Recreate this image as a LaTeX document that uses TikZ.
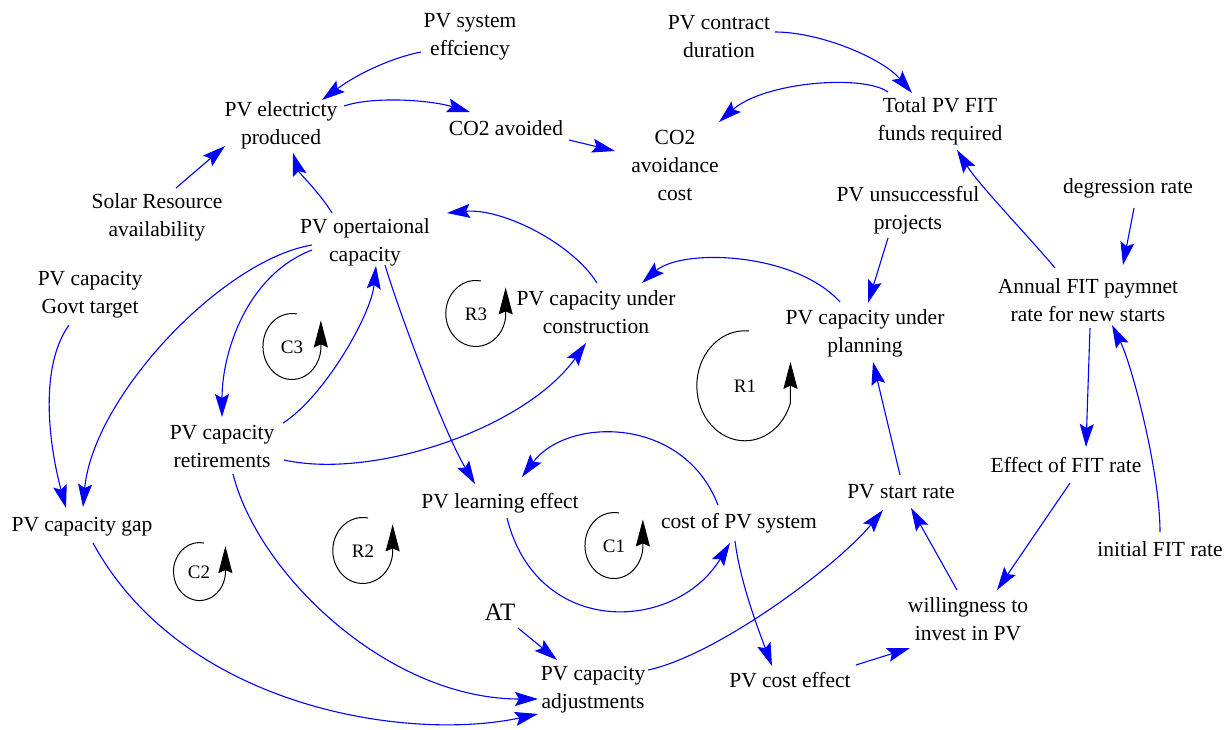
\documentclass[tikz,border=0pt]{standalone}
\usepackage{fontspec}
\setmainfont{Liberation Serif}
\usetikzlibrary{arrows.meta}
\definecolor{linkblue}{RGB}{0,0,255}
\tikzset{
  var/.style={align=center, inner sep=0pt, font=\fontsize{21.5}{28}\selectfont},
  bigvar/.style={align=center, inner sep=0pt, font=\fontsize{25}{30}\selectfont},
  looplbl/.style={inner sep=0pt, font=\fontsize{19}{22}\selectfont},
  link/.style={draw=linkblue, line width=1.1pt, -{Stealth[length=23pt,width=14pt,inset=4pt,fill=linkblue]}},
  loopline/.style={draw=black, line width=1pt, -{Stealth[length=27pt,width=14pt,inset=3pt,fill=black]}}
}
\begin{document}
\begin{tikzpicture}[x=1pt,y=-1pt]
\useasboundingbox (0,0) rectangle (1232,730);
\fill[white] (0,0) rectangle (1232,730);
% variables
\node[var] (sys) at (470,37) {PV system\\effciency};
\node[var] (elec) at (281,125) {PV electricty\\produced};
\node[var] (co2) at (506,128) {CO2 avoided};
\node[var] (cost2) at (675,165) {CO2\\avoidance\\cost};
\node[var] (contract) at (719,37) {PV contract\\duration};
\node[var] (fit) at (940,121) {Total PV FIT\\funds required};
\node[var] (solar) at (157,217) {Solar Resource\\availability};
\node[var] (oper) at (365,242) {PV opertaional\\capacity};
\node[var] (unsucc) at (908,210) {PV unsuccessful\\projects};
\node[var] (degr) at (1128,188) {degression rate};
\node[var] (target) at (90,295) {PV capacity\\Govt target};
\node[var] (constr) at (596,312) {PV capacity under\\construction};
\node[var] (annual) at (1088,300) {Annual FIT paymnet\\rate for new starts};
\node[var] (plan) at (865,333) {PV capacity under\\planning};
\node[var] (retire) at (222,446) {PV capacity\\retirements};
\node[var] (effit) at (1066,465) {Effect of FIT rate};
\node[var] (learn) at (500,503) {PV learning effect};
\node[var] (start) at (901,492) {PV start rate};
\node[var] (gap) at (82,527) {PV capacity gap};
\node[var] (costpv) at (739,523) {cost of PV system};
\node[var] (init) at (1160,549) {initial FIT rate};
\node[var] (will) at (968,619) {willingness to\\invest in PV};
\node[bigvar] (at) at (500,612) {AT};
\node[var] (adj) at (593,690) {PV capacity\\adjustments};
\node[var] (costeff) at (790,680) {PV cost effect};
% loop labels
\node[looplbl] (c3) at (292,347) {C3};
\node[looplbl] (r3) at (476,314) {R3};
\node[looplbl] (r1) at (745,386) {R1};
\node[looplbl] (r2) at (363,551) {R2};
\node[looplbl] (c2) at (199,572) {C2};
\node[looplbl] (c1) at (614,546) {C1};
% loop symbols
\draw[loopline] ([shift={(5,-33)}]c3.center) arc[start angle=280, end angle=5, x radius=29, y radius=33] -- ++(0,-29);
\draw[loopline] ([shift={(5,-33)}]r3.center) arc[start angle=280, end angle=5, x radius=30, y radius=33] -- ++(0,-29);
\draw[loopline] ([shift={(4,-55)}]r1.center) arc[start angle=275, end angle=18, x radius=48, y radius=55] -- ++(0,-41);
\draw[loopline] ([shift={(5,-33)}]r2.center) arc[start angle=280, end angle=5, x radius=30, y radius=33] -- ++(0,-29);
\draw[loopline] ([shift={(5,-29)}]c2.center) arc[start angle=280, end angle=5, x radius=26, y radius=29] -- ++(0,-28);
\draw[loopline] ([shift={(5,-33)}]c1.center) arc[start angle=280, end angle=5, x radius=29, y radius=33] -- ++(0,-29);
% links
\draw[link] ([shift={(-49,15)}]sys.center) .. controls +(-26,5) and +(38,-28) .. ([shift={(41,-25)}]elec.center);
\draw[link] ([shift={(63,-19)}]elec.center) .. controls +(30,-10) and +(-40,-12) .. ([shift={(-36,-16)}]co2.center);
\draw[link] ([shift={(63,12)}]co2.center) -- ([shift={(-60,-14)}]cost2.center);
\draw[link] ([shift={(19,-29)}]solar.center) -- ([shift={(-56,21)}]elec.center);
\draw[link] ([shift={(-33,-29)}]oper.center) .. controls +(-12,-20) and +(6,20) .. ([shift={(12,28)}]elec.center);
\draw[link] ([shift={(56,-5)}]contract.center) .. controls +(45,0) and +(-30,-35) .. ([shift={(-28,-28)}]fit.center);
\draw[link] ([shift={(-52,-29)}]fit.center) .. controls +(-25,-18) and +(45,-40) .. ([shift={(44,-43)}]cost2.center);
\draw[link] ([shift={(-33,-32)}]annual.center) .. controls +(-25,-30) and +(22,35) .. ([shift={(17,29)}]fit.center);
\draw[link] ([shift={(6,20)}]degr.center) -- ([shift={(35,-35)}]annual.center);
\draw[link] ([shift={(-20,28)}]unsucc.center) -- ([shift={(3,-30)}]plan.center);
\draw[link] ([shift={(-25,-31)}]plan.center) .. controls +(-45,-50) and +(40,-35) .. ([shift={(46,-29)}]constr.center);
\draw[link] ([shift={(1,-29)}]constr.center) .. controls +(-25,-40) and +(55,-5) .. ([shift={(82,-29)}]oper.center);
\draw[link] ([shift={(-53,3)}]oper.center) .. controls +(-90,15) and +(10,-110) .. ([shift={(1,-20)}]gap.center);
\draw[link] ([shift={(-53,8)}]oper.center) .. controls +(-65,25) and +(0,-65) .. ([shift={(0,-29)}]retire.center);
\draw[link] ([shift={(61,-23)}]retire.center) .. controls +(40,-25) and +(-5,50) .. ([shift={(11,24)}]oper.center);
\draw[link] ([shift={(20,23)}]oper.center) .. controls +(15,50) and +(-30,-50) .. ([shift={(-25,-19)}]learn.center);
\draw[link] ([shift={(62,14)}]retire.center) .. controls +(90,20) and +(-60,85) .. ([shift={(-10,31)}]constr.center);
\draw[link] ([shift={(-21,30)}]target.center) .. controls +(-32,45) and +(-15,-55) .. ([shift={(-16,-19)}]gap.center);
\draw[link] ([shift={(11,28)}]retire.center) .. controls +(25,100) and +(-150,0) .. ([shift={(-55,9)}]adj.center);
\draw[link] ([shift={(11,16)}]gap.center) .. controls +(90,165) and +(-130,28) .. ([shift={(-55,24)}]adj.center);
\draw[link] ([shift={(18,16)}]at.center) -- ([shift={(-36,-30)}]adj.center);
\draw[link] ([shift={(7,15)}]learn.center) .. controls +(30,120) and +(-55,90) .. ([shift={(-9,20)}]costpv.center);
\draw[link] ([shift={(-21,-18)}]costpv.center) .. controls +(-35,-90) and +(45,-60) .. ([shift={(22,-26)}]learn.center);
\draw[link] ([shift={(-4,18)}]costpv.center) .. controls +(5,40) and +(-15,-40) .. ([shift={(-18,-14)}]costeff.center);
\draw[link] ([shift={(55,-20)}]adj.center) .. controls +(70,-15) and +(-45,55) .. ([shift={(-18,18)}]start.center);
\draw[link] ([shift={(66,-15)}]costeff.center) -- ([shift={(-58,29)}]will.center);
\draw[link] ([shift={(-11,-29)}]will.center) -- ([shift={(10,16)}]start.center);
\draw[link] ([shift={(-1,-17)}]start.center) -- ([shift={(8,29)}]plan.center);
\draw[link] ([shift={(4,18)}]effit.center) -- ([shift={(29,-29)}]will.center);
\draw[link] ([shift={(2,28)}]annual.center) -- ([shift={(20,-18)}]effit.center);
\draw[link] ([shift={(0,-17)}]init.center) .. controls +(0,-60) and +(20,40) .. ([shift={(24,25)}]annual.center);
\end{tikzpicture}
\end{document}
